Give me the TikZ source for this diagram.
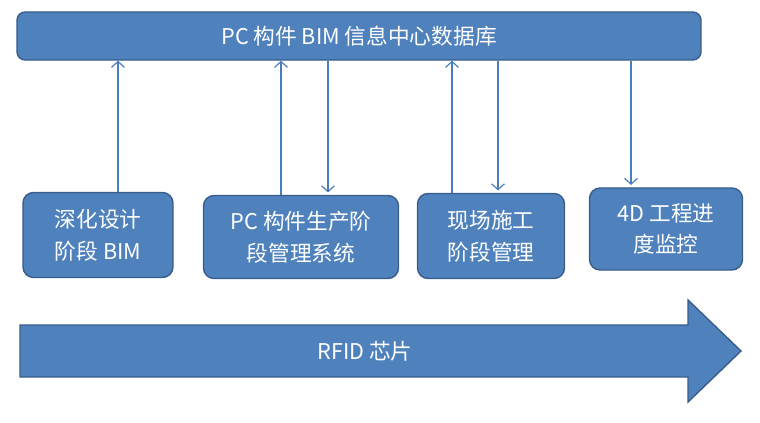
\documentclass[tikz,border=0pt]{standalone}
\usepackage{fontspec}
\setmainfont{Noto Sans CJK SC}
\usetikzlibrary{arrows.meta}
\definecolor{boxfill}{HTML}{4F81BD}
\definecolor{boxline}{HTML}{385D8A}
\definecolor{linkblue}{HTML}{4A7EBB}
\begin{document}
\begin{tikzpicture}[x=0.03cm, y=-0.03cm,
  box/.style={draw=boxline, line width=1.2pt, fill=boxfill, rounded corners=9pt,
    text=white, align=center, inner sep=0pt, font=\fontsize{18.5}{27}\selectfont},
  uplink/.style={draw=linkblue, line width=1pt, -{Straight Barb[length=5pt,width=11pt]}},
  downlink/.style={uplink, shorten >=2pt}]
\useasboundingbox (0,0) rectangle (760,422);

% database bar
\node[box, rounded corners=7pt, minimum width=20.52cm, minimum height=1.44cm] (db) at (359,36) {PC 构件 BIM 信息中心数据库};

% stages
\node[box, minimum width=4.5cm, minimum height=2.55cm] (design) at (98,235) {深化设计\\阶段 BIM};
\node[box, minimum width=5.85cm, minimum height=2.49cm] (produce) at (301,237) {PC 构件生产阶\\段管理系统};
\node[box, minimum width=4.41cm, minimum height=2.55cm] (site) at (491,236) {现场施工\\阶段管理};
\node[box, minimum width=4.59cm, minimum height=2.46cm] (monitor) at (666,229) {4D 工程进\\度监控};

% data flow
\draw[uplink] (design.north -| 118,0) -- (db.south -| 118,0);
\draw[uplink] (produce.north -| 281,0) -- (db.south -| 281,0);
\draw[downlink] (db.south -| 328,0) -- (produce.north -| 328,0);
\draw[uplink] (site.north -| 452,0) -- (db.south -| 452,0);
\draw[downlink] (db.south -| 498,0) -- (site.north -| 498,0);
\draw[downlink] (db.south -| 631,0) -- (monitor.north -| 631,0);

% rfid arrow
\draw[draw=boxline, line width=1.2pt, fill=boxfill, line join=miter]
  (20,325) -- (688,325) -- (688,300) -- (741,351) -- (688,402) -- (688,377) -- (20,377) -- cycle;
\node[text=white, font=\fontsize{18.5}{27}\selectfont] (rfid) at (365,351) {RFID 芯片};
\end{tikzpicture}
\end{document}
